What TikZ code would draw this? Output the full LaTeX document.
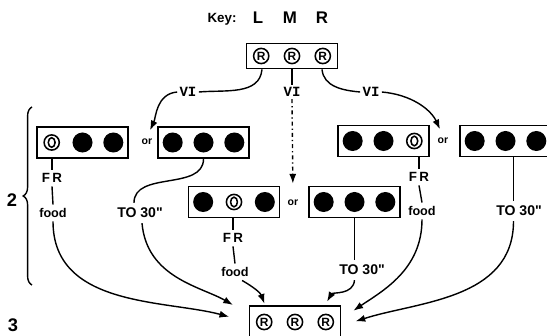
\documentclass[tikz,border=0pt]{standalone}
\usepackage{fontspec}
\setmainfont{Liberation Sans}
\setmonofont{Liberation Mono}
\usetikzlibrary{positioning, arrows.meta, decorations.pathreplacing}

\tikzset{
  panel/.style={draw, line width=1.2pt, minimum width=2.275cm, minimum height=0.775cm, inner sep=0pt},
  tag/.style={font=\fontsize{9.5}{10}\selectfont\bfseries, inner sep=2.5pt},
  foodtag/.style={font=\fontsize{9}{10}\selectfont\bfseries, inner sep=2.5pt},
  timetag/.style={font=\fontsize{10}{11}\selectfont\bfseries, inner sep=3.5pt},
  vitag/.style={font=\fontsize{10}{11}\selectfont\ttfamily\bfseries, inner sep=1.5pt},
  ortag/.style={font=\fontsize{7.5}{8}\selectfont\bfseries, inner sep=1.5pt},
  keytag/.style={font=\fontsize{12}{13}\selectfont\bfseries, inner sep=0pt},
  phase/.style={font=\fontsize{13}{14}\selectfont\bfseries},
  wire/.style={line width=1pt},
  feed/.style={wire, -{Latex[length=7pt, width=5pt]}},
  rmark/.pic={\draw[line width=1.1pt] (0,0) circle (0.19cm);
    \node[font=\fontsize{8.5}{8}\selectfont\bfseries, inner sep=0pt] {R};},
  omark/.pic={\draw[line width=1.1pt] (0,0) circle (0.19cm);
    \draw[line width=1.1pt] (0,0) ellipse (0.085cm and 0.12cm);},
  blot/.pic={\fill (0,0) circle (0.25cm);},
}

% box with three lights: [options]{name}{position}{left}{middle}{right}
\newcommand{\panel}[6][]{%
  \node[panel, #1] (#2) at (#3) {};
  \pic at ([xshift=-0.77cm]#2.center) {#4};
  \pic at (#2.center) {#5};
  \pic at ([xshift=0.77cm]#2.center) {#6};
}

\begin{document}
\begin{tikzpicture}[x=0.025cm, y=0.025cm]
  \useasboundingbox (0,0) rectangle (547,336);
  \clip (0,0) rectangle (547,336);

  % key
  \node[font=\fontsize{9.5}{10}\selectfont\bfseries] (key) at (222,317) {Key:};
  \node[keytag] (kl) at (258,318) {L};
  \node[keytag] (km) at (290,318) {M};
  \node[keytag] (kr) at (322,318) {R};

  % boxes
  \panel[minimum height=0.625cm]{top}{292,280}{rmark}{rmark}{rmark}
  \panel{la}{82.5,193.5}{omark}{blot}{blot}
  \panel{lb}{203.5,193.5}{blot}{blot}{blot}
  \panel{lc}{383.5,195}{blot}{blot}{omark}
  \panel{ld}{505.5,195}{blot}{blot}{blot}
  \panel{le}{234,134}{blot}{omark}{blot}
  \panel{lf}{354.5,134}{blot}{blot}{blot}
  \panel[minimum height=0.8cm]{g}{295,14}{rmark}{rmark}{rmark}

  \node[vitag] (vl) at (188,244) {VI};
  \node[vitag] (vm) at (292,244) {VI};
  \node[vitag] (vr) at (371,244) {VI};

  \node[ortag] (or1) at (147,194) {or};
  \node[ortag] (or2) at (293,133) {or};
  \node[ortag] (or3) at (443,195) {or};

  \node[tag] (fra) at (52,158) {F\,R};
  \node[foodtag] (fooda) at (53,123) {food};
  \node[timetag] (toa) at (140,123) {TO 30\textquotedbl};
  \node[tag] (fre) at (233,98) {F\,R};
  \node[foodtag] (foode) at (235,64) {food};
  \node[timetag] (tof) at (362,66) {TO 30\textquotedbl};
  \node[tag] (frc) at (419,159) {F\,R};
  \node[foodtag] (foodc) at (422,125) {food};
  \node[timetag] (tod) at (519,125) {TO 30\textquotedbl};

  \node[phase] (two) at (12,136) {2};
  \node[phase] (three) at (13,11) {3};
  \draw[wire, decorate, decoration={brace, amplitude=0.22cm}] (32,51) -- (32,229);

  % from the top box
  \draw[wire] ([xshift=-0.75cm]top.south) to[out=-95, in=5] (vl.east);
  \draw[wire] (top.south) -- (vm.north);
  \draw[wire] ([xshift=0.75cm]top.south) to[out=-85, in=175] (vr.west);
  \draw[feed, shorten >=5pt] (vl.west) to[out=185, in=65] (or1.north);
  \draw[feed, dash dot, shorten >=0.35cm] (vm.south) -- (or2.north);
  \draw[feed, shorten >=5pt] (vr.east) to[out=-5, in=115] (or3.north);

  % into the bottom box
  \draw[wire] (la.south -| fra) -- (fra.north);
  \draw[wire] (fra.south) -- (fooda.north);
  \draw[feed, shorten >=0.5cm] (fooda.south) to[out=-90, in=165] (g.west);

  \draw[wire] (lb.south) to[out=-90, in=90] ([xshift=-0.15cm]toa.north);
  \draw[feed, shorten >=0.45cm] ([xshift=0.05cm]toa.south) to[out=-85, in=150] ([yshift=0.2cm]g.west);

  \draw[wire] (le.south -| fre) -- (fre.north);
  \draw[wire] (fre.south) -- (foode.north);
  \draw[feed, shorten >=1pt] (foode.-50) to[out=-30, in=110] ([xshift=-0.75cm]g.north);

  \draw[wire] (lf.south) -- (lf.south |- tof.north);
  \draw[feed, shorten >=0.1cm] (lf.south |- tof.south) to[out=-95, in=60] ([xshift=0.75cm]g.north);

  \draw[wire] (lc.south -| frc) -- (frc.north);
  \draw[wire] (frc.south) -- (foodc.north);
  \draw[feed, shorten >=0.36cm] (foodc.south) to[out=-90, in=34] ([yshift=0.08cm]g.east);

  \coordinate (dx) at ([xshift=0.2cm]ld.south);
  \draw[wire] (dx) -- (dx |- tod.north);
  \draw[feed, shorten >=0.37cm] (dx |- tod.south) to[out=-90, in=18] ([yshift=-0.1cm]g.east);
\end{tikzpicture}
\end{document}
